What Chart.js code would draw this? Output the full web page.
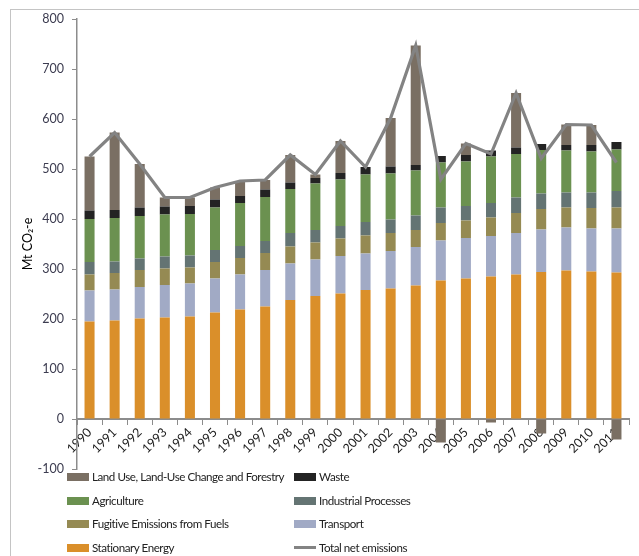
<!DOCTYPE html>
<html><head><meta charset="utf-8">
<script src="https://cdn.jsdelivr.net/npm/chart.js@4/dist/chart.umd.min.js"></script>
<style>
html,body{margin:0;padding:0;background:#fff;overflow:hidden}
#wrap{position:relative;width:639px;height:556px}
#frame{position:absolute;left:10px;top:9px;width:700px;height:600px;border-left:1px solid #c4c4c4;border-top:1px solid #c4c4c4}
canvas{position:absolute;left:0;top:0}
#legend{position:absolute;left:0;top:0;font-family:Lato, sans-serif;font-size:11.6px;letter-spacing:-0.45px;color:#222}
.item{position:absolute;height:16px;line-height:16px;white-space:nowrap}
.sw{position:absolute;left:0;top:4px;width:22px;height:8px}
.ln{position:absolute;left:0;top:6.5px;width:22px;height:3px}
.tx{position:absolute;left:25px;top:0}
</style></head>
<body>
<div id="wrap">
<div id="frame"></div>
<canvas id="c" width="639" height="556"></canvas>
<div id="legend"></div>
</div>
<script>
const years = ['1990','1991','1992','1993','1994','1995','1996','1997','1998','1999','2000','2001','2002','2003','2004','2005','2006','2007','2008','2009','2010','2011'];
const stationaryEnergy = [195,197,201,203,205,213,219,225,238,246,251,258,261,267,277,281,285,289,294,297,295,293];
const transport = [62,62,63,65,66,68,70,73,73,73,75,73,75,77,80,81,81,83,85,86,86,88];
const fugitiveEmissions = [32,33,34,33,32,33,33,34,34,34,35,36,36,34,35,35,37,40,41,40,41,42];
const industrialProcesses = [25,23,23,24,24,24,24,24,27,25,25,27,27,29,31,29,29,31,31,30,31,33];
const agriculture = [86,87,85,84,83,85,86,88,88,93,93,95,92,90,90,89,93,87,87,84,82,83];
const waste = [17,16,17,16,16,16,14,15,13,11,13,15,14,11,13,13,12,13,12,11,13,15];
const landUse = [108,155,87,18,17,24,30,19,55,7,64,0,97,239,-47,23,-7,109,-29,41,40,-41];
const totalNet = [525,573,510,443,443,463,476,478,528,489,556,504,602,747,479,551,530,652,521,589,588,513];
const yTicks = [-100,0,100,200,300,400,500,600,700,800];

const FONT = 'Lato';
const barSets = [
  {label:'Stationary Energy', data:stationaryEnergy, backgroundColor:'#da8f2a'},
  {label:'Transport', data:transport, backgroundColor:'#a1aac5'},
  {label:'Fugitive Emissions from Fuels', data:fugitiveEmissions, backgroundColor:'#958a53'},
  {label:'Industrial Processes', data:industrialProcesses, backgroundColor:'#647473'},
  {label:'Agriculture', data:agriculture, backgroundColor:'#6b9150'},
  {label:'Waste', data:waste, backgroundColor:'#232323'},
  {label:'Land Use, Land-Use Change and Forestry', data:landUse, backgroundColor:'#7a6f63'}
].map(d => Object.assign(d, {stack:'emis', order:1, borderWidth:0}));

const lineSet = {type:'line', label:'Total net emissions', data:totalNet, borderColor:'#838383', backgroundColor:'#838383',
  borderWidth:3.2, pointRadius:0, tension:0, fill:false, stack:'net', order:0};

const chart = new Chart(document.getElementById('c').getContext('2d'), {
  type:'bar',
  data:{labels:years, datasets:[lineSet, ...barSets]},
  options:{
    responsive:false, animation:false, devicePixelRatio:1,
    layout:{padding:{left:20, top:19, right:10, bottom:87}},
    plugins:{legend:{display:false}, tooltip:{enabled:false}},
    datasets:{bar:{barPercentage:0.8, categoryPercentage:0.5}},
    scales:{
      x:{position:{y:0}, stacked:true, offset:true,
        grid:{offset:true, drawOnChartArea:false, drawTicks:true, tickLength:5, color:'#8c8c8c', lineWidth:1},
        border:{color:'#8c8c8c', width:2},
        ticks:{minRotation:45, maxRotation:45, autoSkip:false, padding:1, color:'#1a1a1a', font:{family:FONT, size:12.5}},
        afterFit(s){ s.height = 0; }},
      y:{stacked:true, min:-100, max:800,
        afterBuildTicks(s){ s.ticks = yTicks.map(v => ({value:v})); },
        ticks:{color:'#3c3c50', padding:8, font:{family:FONT, size:12.5}},
        grid:{drawOnChartArea:false, drawTicks:true, tickLength:5, color:'#8c8c8c'},
        border:{color:'#8c8c8c', width:1.5},
        title:{display:true, text:'Mt CO₂-e', color:'#000', font:{family:FONT, size:12.5}, padding:{top:0, bottom:0}},
        afterFit(s){ s.width = 57; }}
    }
  }
});

// HTML legend, two columns in the reference order
const legendOrder = ['Land Use, Land-Use Change and Forestry','Waste','Agriculture','Industrial Processes',
  'Fugitive Emissions from Fuels','Transport','Stationary Energy','Total net emissions'];
const legCols = [67, 294];
const legRows = [469, 493, 515.5, 539.5];
const leg = document.getElementById('legend');
legendOrder.forEach((name, i) => {
  const ds = chart.data.datasets.find(d => d.label === name);
  const it = document.createElement('div');
  it.className = 'item';
  it.style.left = legCols[i % 2] + 'px';
  it.style.top = legRows[Math.floor(i / 2)] + 'px';
  const sw = document.createElement('div');
  sw.className = ds.type === 'line' ? 'ln' : 'sw';
  sw.style.background = ds.type === 'line' ? ds.borderColor : ds.backgroundColor;
  const tx = document.createElement('div');
  tx.className = 'tx';
  tx.textContent = name;
  it.appendChild(sw); it.appendChild(tx);
  leg.appendChild(it);
});
</script>
</body></html>
